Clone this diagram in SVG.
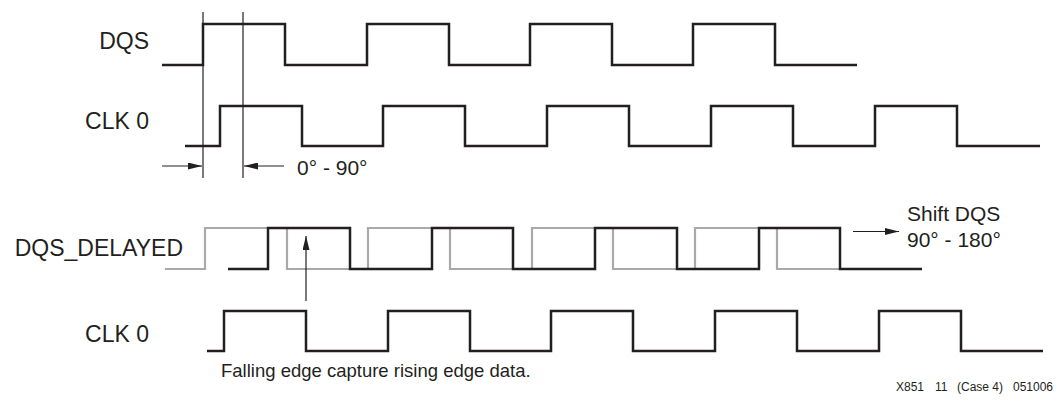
<svg xmlns="http://www.w3.org/2000/svg" width="1058" height="403" viewBox="0 0 1058 403">
  <style>
    .label { font-family: "Liberation Sans", Arial, sans-serif; font-size: 23px; fill: #231f20; }
    .note { font-family: "Liberation Sans", Arial, sans-serif; font-size: 21px; fill: #231f20; }
    .cap { font-family: "Liberation Sans", Arial, sans-serif; font-size: 18.5px; fill: #231f20; }
    .fig { font-family: "Liberation Sans", Arial, sans-serif; font-size: 12px; fill: #231f20; }
    .wave { fill: none; stroke: #231f20; stroke-width: 2.5; stroke-linejoin: miter; }
    .ghost { fill: none; stroke: #a7a9ac; stroke-width: 2.2; stroke-linejoin: miter; }
    .thin { fill: none; stroke: #231f20; stroke-width: 1.2; }
  </style>
  <defs>
    <marker id="head" viewBox="0 0 14 7" refX="14" refY="3.5" markerWidth="14" markerHeight="7" markerUnits="userSpaceOnUse" orient="auto">
      <path d="M0,0 L14,3.5 L0,7 Z" fill="#231f20"/>
    </marker>
  </defs>

  <rect width="1058" height="403" fill="#ffffff"/>

  <!-- DQS -->
  <g id="dqs">
    <text class="label" x="149" y="49" text-anchor="end">DQS</text>
    <path class="wave" d="M162,65 H203 V24 H285 V65 H367 V24 H449 V65 H530 V24 H612 V65 H693 V24 H775 V65 H857"/>
  </g>

  <!-- CLK 0 (upper) -->
  <g id="clk0-top">
    <text class="label" x="149" y="129" text-anchor="end">CLK 0</text>
    <path class="wave" d="M185,146 H220 V106 H302 V146 H383 V106 H465 V146 H547 V106 H629 V146 H711 V106 H793 V146 H875 V106 H957 V146 H1040"/>
  </g>

  <!-- DQS_DELAYED: original DQS in grey, shifted DQS in black -->
  <g id="dqs-delayed">
    <text class="label" x="183" y="256" text-anchor="end">DQS_DELAYED</text>
    <path class="ghost" d="M165,269 H205 V228 H287 V269 H368 V228 H450 V269 H532 V228 H613 V269 H695 V228 H777 V269 H840"/>
    <path class="wave" d="M228,269 H268 V228 H350 V269 H432 V228 H513 V269 H595 V228 H677 V269 H759 V228 H840 V269 H922"/>
  </g>

  <!-- CLK 0 (lower) -->
  <g id="clk0-bottom">
    <text class="label" x="149" y="342" text-anchor="end">CLK 0</text>
    <path class="wave" d="M207,351 H224 V311 H306 V351 H388 V311 H470 V351 H551 V311 H633 V351 H715 V311 H797 V351 H879 V311 H961 V351 H1043"/>
  </g>

  <!-- Phase window annotation -->
  <g id="phase-window">
    <line class="thin" x1="203" y1="12" x2="203" y2="178"/>
    <line class="thin" x1="243" y1="12" x2="243" y2="178"/>
    <text class="note" x="297" y="175">0° - 90°</text>
  </g>

  <!-- Shift annotation -->
  <g id="shift-note">
    <text class="note" x="907" y="221">Shift DQS</text>
    <text class="note" x="907" y="247">90° - 180°</text>
  </g>

  <!-- Capture annotation -->
  <g id="capture-note">
    <text class="cap" x="221" y="377">Falling edge capture rising edge data.</text>
  </g>

  <!-- Connectors -->
  <g id="connectors">
    <line class="thin" x1="162" y1="166" x2="202" y2="166" marker-end="url(#head)"/>
    <line class="thin" x1="284" y1="166" x2="244" y2="166" marker-end="url(#head)"/>
    <line class="thin" x1="853" y1="231.5" x2="899" y2="231.5" marker-end="url(#head)"/>
    <line class="thin" x1="306" y1="301" x2="306" y2="236" marker-end="url(#head)"/>
  </g>

  <text class="fig" y="391"><tspan x="896">X851</tspan><tspan x="935">11</tspan><tspan x="957">(Case 4)</tspan><tspan x="1013">051006</tspan></text>
</svg>
